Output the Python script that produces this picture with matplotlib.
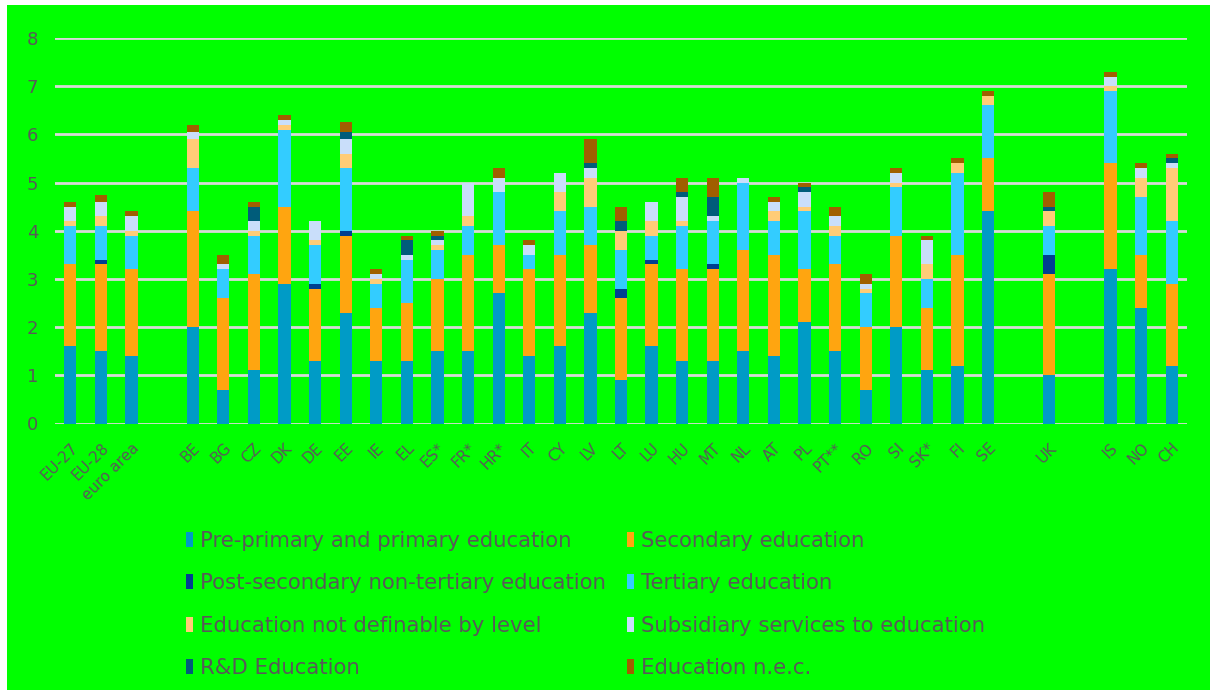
import numpy as np
import matplotlib
matplotlib.use('Agg')
import matplotlib.pyplot as plt
from matplotlib.patches import Rectangle

# --- Dados: despesa em educação por nível (% do PIB) ---
paises = ['EU-27', 'EU-28', 'euro area', 'BE', 'BG', 'CZ', 'DK', 'DE', 'EE', 'IE',
          'EL', 'ES*', 'FR*', 'HR*', 'IT', 'CY', 'LV', 'LT', 'LU', 'HU', 'MT', 'NL',
          'AT', 'PL', 'PT**', 'RO', 'SI', 'SK*', 'FI', 'SE', 'UK', 'IS', 'NO', 'CH']
posicoes = [0, 1, 2, 4, 5, 6, 7, 8, 9, 10, 11, 12, 13, 14, 15, 16, 17, 18, 19, 20,
            21, 22, 23, 24, 25, 26, 27, 28, 29, 30, 32, 34, 35, 36]

primario = [1.6, 1.5, 1.4, 2.0, 0.7, 1.1, 2.9, 1.3, 2.3, 1.3, 1.3, 1.5, 1.5, 2.7, 1.4, 1.6, 2.3,
            0.9, 1.6, 1.3, 1.3, 1.5, 1.4, 2.1, 1.5, 0.7, 2.0, 1.1, 1.2, 4.4, 1.0, 3.2, 2.4, 1.2]
secundario = [1.7, 1.8, 1.8, 2.4, 1.9, 2.0, 1.6, 1.5, 1.6, 1.1, 1.2, 1.5, 2.0, 1.0, 1.8, 1.9, 1.4,
              1.7, 1.7, 1.9, 1.9, 2.1, 2.1, 1.1, 1.8, 1.3, 1.9, 1.3, 2.3, 1.1, 2.1, 2.2, 1.1, 1.7]
pos_secundario = [0, 0.1, 0, 0, 0, 0, 0, 0.1, 0.1, 0, 0, 0, 0, 0, 0, 0, 0,
                  0.2, 0.1, 0, 0.1, 0, 0, 0, 0, 0, 0, 0, 0, 0, 0.4, 0, 0, 0]
terciario = [0.8, 0.7, 0.7, 0.9, 0.6, 0.8, 1.6, 0.8, 1.3, 0.5, 0.9, 0.6, 0.6, 1.1, 0.3, 0.9, 0.8,
             0.8, 0.5, 0.9, 0.9, 1.4, 0.7, 1.2, 0.6, 0.7, 1.0, 0.6, 1.7, 1.1, 0.6, 1.5, 1.2, 1.3]
nao_definivel = [0.1, 0.2, 0.1, 0.6, 0, 0.1, 0.1, 0.1, 0.3, 0.1, 0, 0.1, 0.2, 0, 0, 0.4, 0.6,
                 0.4, 0.3, 0.1, 0, 0, 0.2, 0.1, 0.2, 0.1, 0.1, 0.3, 0.2, 0.2, 0.3, 0.1, 0.4, 1.1]
subsidiarios = [0.3, 0.3, 0.3, 0.15, 0.1, 0.2, 0.1, 0.4, 0.3, 0.1, 0.1, 0.1, 0.7, 0.3, 0.2, 0.4, 0.2,
                0, 0.4, 0.5, 0.1, 0.1, 0.2, 0.3, 0.2, 0.1, 0.2, 0.5, 0, 0, 0, 0.2, 0.2, 0.1]
p_e_d = [0, 0, 0, 0, 0, 0.3, 0, 0, 0.15, 0, 0.3, 0.1, 0, 0, 0, 0, 0.1,
         0.2, 0, 0.1, 0.4, 0, 0, 0.1, 0, 0, 0, 0, 0, 0, 0.1, 0, 0, 0.1]
nec = [0.1, 0.15, 0.1, 0.15, 0.2, 0.1, 0.1, 0, 0.2, 0.1, 0.1, 0.1, 0, 0.2, 0.1, 0, 0.5,
       0.3, 0, 0.3, 0.4, 0, 0.1, 0.1, 0.2, 0.2, 0.1, 0.1, 0.1, 0.1, 0.3, 0.1, 0.1, 0.1]

series = [
    ('Pre-primary and primary education', primario, '#009BC6'),
    ('Secondary education', secundario, '#FFA510'),
    ('Post-secondary non-tertiary education', pos_secundario, '#003F91'),
    ('Tertiary education', terciario, '#33CCFF'),
    ('Education not definable by level', nao_definivel, '#FFCC77'),
    ('Subsidiary services to education', subsidiarios, '#C9DEFA'),
    ('R&D Education', p_e_d, '#005C7A'),
    ('Education n.e.c.', nec, '#A05F00'),
]

VERDE = '#00FF00'
CINZA = '#595959'

# --- Figura ---
fig = plt.figure(figsize=(12.13, 6.95), dpi=100)
fig.patch.set_facecolor('white')
fig.patches.append(Rectangle((7 / 1213, 5 / 695), 1203 / 1213, 685 / 695,
                             transform=fig.transFigure, facecolor=VERDE,
                             edgecolor='none', zorder=-5))

ax = fig.add_axes([55 / 1213, 1 - 423.5 / 695, 1132 / 1213, 385.5 / 695])
ax.set_zorder(2)
ax.set_facecolor(VERDE)

base = np.zeros(len(paises))
for nome, valores, cor in series:
    valores = np.array(valores, dtype=float)
    ax.bar(posicoes, valores, bottom=base, width=0.4, color=cor,
           edgecolor='none', label=nome, zorder=3)
    base += valores

ax.set_xlim(-0.5, 36.5)
ax.set_ylim(0, 8)
ax.set_yticks(range(0, 9))
ax.yaxis.grid(True, color='#D9D9D9', linewidth=2, zorder=0)
ax.set_axisbelow(True)
for lado in ['top', 'right', 'left', 'bottom']:
    ax.spines[lado].set_visible(False)
ax.tick_params(axis='both', length=0, colors=CINZA)
ax.tick_params(axis='y', labelsize=13, pad=12)

ax.set_xticks(posicoes)
ax.set_xticklabels(paises, rotation=45, ha='right', rotation_mode='anchor',
                   fontsize=11, color=CINZA)
ax.tick_params(axis='x', pad=12)

# Legenda em duas colunas, ordenada por linha
handles, labels = ax.get_legend_handles_labels()
ordem = [0, 2, 4, 6, 1, 3, 5, 7]
fig.legend([handles[i] for i in ordem], [labels[i] for i in ordem],
           loc='upper left', bbox_to_anchor=(186 / 1213, 1 - 531 / 695),
           ncol=2, frameon=False, fontsize=15.3, labelcolor=CINZA,
           handlelength=0.35, handleheight=0.7, handletextpad=0.3,
           columnspacing=1.0, labelspacing=1.05, borderaxespad=0, borderpad=0)

plt.savefig('out.png', dpi=100, facecolor=fig.get_facecolor())
